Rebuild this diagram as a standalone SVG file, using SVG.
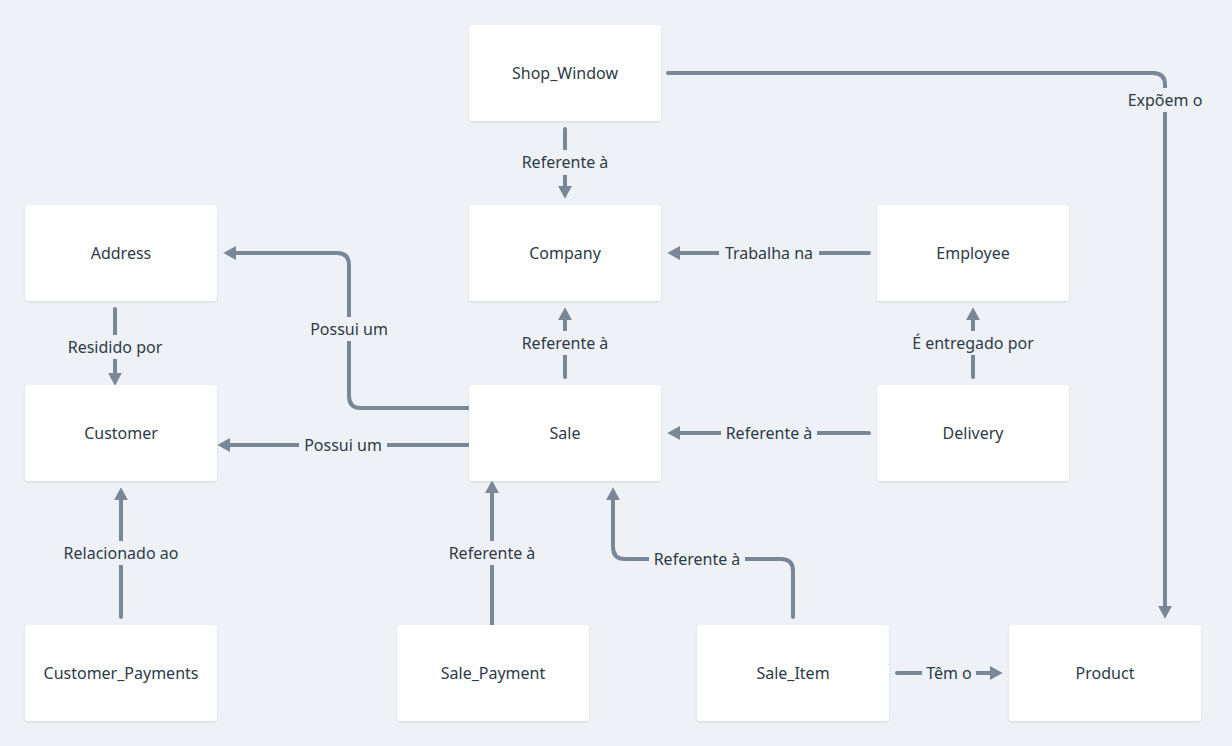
<svg xmlns="http://www.w3.org/2000/svg" width="1232" height="746" viewBox="0 0 1232 746">
<defs>
<marker id="ah" markerUnits="userSpaceOnUse" markerWidth="14" markerHeight="14" refX="1" refY="6" orient="auto" viewBox="0 0 12 12">
<path d="M0,0 L11,6 L0,12 z" fill="#7a8797"/>
</marker>
<filter id="sh" x="-10%" y="-10%" width="120%" height="130%">
<feDropShadow dx="0" dy="1" stdDeviation="1.2" flood-color="#9aa6b4" flood-opacity="0.35"/>
</filter>
<style>
.n rect{fill:#ffffff;filter:url(#sh)}
.n text{font-family:"Noto Sans","Open Sans",sans-serif;font-size:16px;fill:#2e3a48;text-anchor:middle}
.c path{fill:none;stroke:#7a8797;stroke-width:4;stroke-linecap:round;stroke-linejoin:round;marker-end:url(#ah)}
.l rect{fill:#eef2f6}
.l text{font-family:"Noto Sans","Open Sans",sans-serif;font-size:16px;fill:#2e3a48;text-anchor:middle}
</style>
</defs>
<rect x="0" y="0" width="1232" height="746" fill="#eef2f6"/>
<g id="connectors" class="c">
<path d="M565,129 L565,187"/>
<path d="M668,73 L1153,73 Q1165,73 1165,85 L1165,607"/>
<path d="M869,253 L679,253"/>
<path d="M565,377 L565,319"/>
<path d="M469,408 L361,408 Q349,408 349,396 L349,265 Q349,253 337,253 L235,253"/>
<path d="M115,309 L115,374"/>
<path d="M469,445 L229,445"/>
<path d="M869,433 L679,433"/>
<path d="M973,377 L973,319"/>
<path d="M121,617 L121,499"/>
<path d="M492,625 L492,492"/>
<path d="M793,617 L793,571 Q793,559 781,559 L625,559 Q613,559 613,547 L613,499"/>
<path d="M897,673 L991,673"/>
</g>
<g id="labels" class="l">
<g><rect x="517" y="150" width="96" height="25"/><text x="565" y="168">Referente à</text></g>
<g><rect x="1125" y="88" width="80" height="24"/><text x="1165" y="106">Expõem o</text></g>
<g><rect x="719" y="241" width="100" height="24"/><text x="769" y="259">Trabalha na</text></g>
<g><rect x="517" y="331" width="96" height="24"/><text x="565" y="349">Referente à</text></g>
<g><rect x="305" y="317" width="88" height="24"/><text x="349" y="335">Possui um</text></g>
<g><rect x="63" y="335" width="104" height="24"/><text x="115" y="353">Residido por</text></g>
<g><rect x="299" y="433" width="88" height="24"/><text x="343" y="451">Possui um</text></g>
<g><rect x="721" y="421" width="96" height="24"/><text x="769" y="439">Referente à</text></g>
<g><rect x="907" y="331" width="132" height="24"/><text x="973" y="349">É entregado por</text></g>
<g><rect x="59" y="541" width="124" height="24"/><text x="121" y="559">Relacionado ao</text></g>
<g><rect x="444" y="541" width="96" height="24"/><text x="492" y="559">Referente à</text></g>
<g><rect x="649" y="547" width="96" height="24"/><text x="697" y="565">Referente à</text></g>
<g><rect x="922" y="661" width="54" height="24"/><text x="949" y="679">Têm o</text></g>
</g>
<g id="Shop_Window" class="n"><rect x="469" y="25" width="192" height="96" rx="3"/><text x="565" y="79">Shop_Window</text></g>
<g id="Company" class="n"><rect x="469" y="205" width="192" height="96" rx="3"/><text x="565" y="259">Company</text></g>
<g id="Address" class="n"><rect x="25" y="205" width="192" height="96" rx="3"/><text x="121" y="259">Address</text></g>
<g id="Employee" class="n"><rect x="877" y="205" width="192" height="96" rx="3"/><text x="973" y="259">Employee</text></g>
<g id="Customer" class="n"><rect x="25" y="385" width="192" height="96" rx="3"/><text x="121" y="439">Customer</text></g>
<g id="Sale" class="n"><rect x="469" y="385" width="192" height="96" rx="3"/><text x="565" y="439">Sale</text></g>
<g id="Delivery" class="n"><rect x="877" y="385" width="192" height="96" rx="3"/><text x="973" y="439">Delivery</text></g>
<g id="Customer_Payments" class="n"><rect x="25" y="625" width="192" height="96" rx="3"/><text x="121" y="679">Customer_Payments</text></g>
<g id="Sale_Payment" class="n"><rect x="397" y="625" width="192" height="96" rx="3"/><text x="493" y="679">Sale_Payment</text></g>
<g id="Sale_Item" class="n"><rect x="697" y="625" width="192" height="96" rx="3"/><text x="793" y="679">Sale_Item</text></g>
<g id="Product" class="n"><rect x="1009" y="625" width="192" height="96" rx="3"/><text x="1105" y="679">Product</text></g>
</svg>
